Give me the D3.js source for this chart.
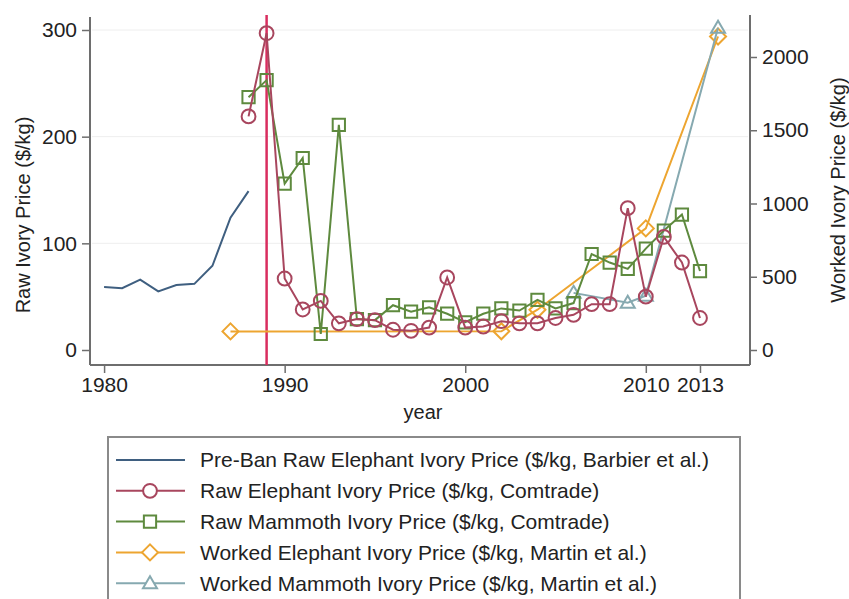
<!DOCTYPE html>
<html>
<head>
<meta charset="utf-8">
<script src="https://cdn.jsdelivr.net/npm/d3@7"></script>
<style>
  body { margin: 0; background: #fff; }
  text { font-family: "Liberation Sans", Arial, sans-serif; fill: #222; }
</style>
</head>
<body>
<svg id="drawing_region"></svg>
<script>
// data
const preBanYears = [1980, 1981, 1982, 1983, 1984, 1985, 1986, 1987, 1988];
const preBanPrice = [59, 58, 66, 55, 61, 62, 79, 124, 149];

const rawYears = [1988, 1989, 1990, 1991, 1992, 1993, 1994, 1995, 1996, 1997, 1998, 1999, 2000,
                  2001, 2002, 2003, 2004, 2005, 2006, 2007, 2008, 2009, 2010, 2011, 2012, 2013];
const rawElephantPrice = [219, 297, 67, 38, 46, 25, 29, 28, 19, 18, 21, 68, 21,
                          22, 27, 25, 25, 30, 33, 43, 43, 133, 50, 106, 82, 30];
const rawMammothPrice = [237, 253, 156, 180, 15, 211, 29, 28, 42, 36, 40, 34, 26,
                         34, 39, 37, 47, 39, 44, 90, 82, 76, 95, 112, 127, 74];

const workedElephantYears = [1987, 2002, 2004, 2010, 2014];
const workedElephantPrice = [127, 128, 275, 830, 2140];
const workedMammothYears = [2006, 2009, 2010, 2014];
const workedMammothPrice = [390, 323, 370, 2200];

const banYear = 1989;
const xTicks = [1980, 1990, 2000, 2010, 2013];
const leftTicks = [0, 100, 200, 300];
const rightTicks = [0, 500, 1000, 1500, 2000];

const legendLabels = [
    'Pre-Ban Raw Elephant Ivory Price ($/kg, Barbier et al.)',
    'Raw Elephant Ivory Price ($/kg, Comtrade)',
    'Raw Mammoth Ivory Price ($/kg, Comtrade)',
    'Worked Elephant Ivory Price ($/kg, Martin et al.)',
    'Worked Mammoth Ivory Price ($/kg, Martin et al.)'
];

class IvoryChart {

    constructor( config ) {
        this.config = config;
        this.init();
    }

    init() {
        let self = this;

        self.svg = d3.select( self.config.parent )
            .attr('width', self.config.width)
            .attr('height', self.config.height);

        // plot region spans x 90..750, y 17..365
        self.xScale = d3.scaleLinear()
            .domain([1979.22, 2015.77])
            .range([90, 750]);

        self.yLeft = d3.scaleLinear()
            .domain([0, 300])
            .range([350, 30]);

        self.yRight = d3.scaleLinear()
            .domain([0, 2000])
            .range([350, 57]);
    }

    render() {
        let self = this;
        const c = self.config.colors;

        // faint grid
        self.svg.append('g')
            .selectAll('line')
            .data(leftTicks.slice(1))
            .enter()
            .append('line')
            .attr('x1', 92).attr('x2', 748)
            .attr('y1', d => self.yLeft(d)).attr('y2', d => self.yLeft(d))
            .attr('stroke', '#eeeeee')
            .attr('stroke-width', 1);

        // axes
        const xAxis = d3.axisBottom(self.xScale)
            .tickValues(xTicks)
            .tickFormat(d3.format('d'))
            .tickSize(8)
            .tickPadding(4);
        const xg = self.svg.append('g')
            .attr('transform', 'translate(0,365)')
            .call(xAxis);
        xg.select('.domain').attr('d', 'M90,0H750');

        const lAxis = d3.axisLeft(self.yLeft)
            .tickValues(leftTicks)
            .tickFormat(d3.format('d'))
            .tickSize(8)
            .tickPadding(5);
        const lg = self.svg.append('g')
            .attr('transform', 'translate(90,0)')
            .call(lAxis);
        lg.select('.domain').attr('d', 'M0,17V365');

        const rAxis = d3.axisRight(self.yRight)
            .tickValues(rightTicks)
            .tickFormat(d3.format('d'))
            .tickSize(7)
            .tickPadding(5);
        const rg = self.svg.append('g')
            .attr('transform', 'translate(750,0)')
            .call(rAxis);
        rg.select('.domain').attr('d', 'M0,15V365');

        [xg, lg, rg].forEach(g => {
            g.select('.domain').attr('stroke', '#6e6e6e').attr('stroke-width', 2);
            g.selectAll('.tick line').attr('stroke', '#6e6e6e').attr('stroke-width', 1.5);
            g.selectAll('.tick text')
                .attr('font-size', '21px')
                .attr('font-family', '"Liberation Sans", Arial, sans-serif')
                .attr('fill', '#222');
        });

        // axis titles
        self.svg.append('text')
            .attr('x', 423).attr('y', 419)
            .attr('text-anchor', 'middle')
            .attr('font-size', '20px')
            .text('year');
        self.svg.append('text')
            .attr('transform', 'translate(30,215) rotate(-90)')
            .attr('text-anchor', 'middle')
            .attr('font-size', '20px')
            .text('Raw Ivory Price ($/kg)');
        self.svg.append('text')
            .attr('transform', 'translate(845,190) rotate(-90)')
            .attr('text-anchor', 'middle')
            .attr('font-size', '20px')
            .text('Worked Ivory Price ($/kg)');

        // ban line
        self.svg.append('line')
            .attr('x1', self.xScale(banYear)).attr('x2', self.xScale(banYear))
            .attr('y1', 15).attr('y2', 365)
            .attr('stroke', c.ban)
            .attr('stroke-width', 2.5);

        const zip = (xs, ys) => xs.map((x, i) => ({x: x, y: ys[i]}));
        const series = [
            {data: zip(preBanYears, preBanPrice), y: self.yLeft, color: c.preBan, marker: null},
            {data: zip(workedElephantYears, workedElephantPrice), y: self.yRight, color: c.workedEle, marker: 'diamond'},
            {data: zip(workedMammothYears, workedMammothPrice), y: self.yRight, color: c.workedMam, marker: 'triangle'},
            {data: zip(rawYears, rawMammothPrice), y: self.yLeft, color: c.rawMam, marker: 'square'},
            {data: zip(rawYears, rawElephantPrice), y: self.yLeft, color: c.rawEle, marker: 'circle'}
        ];

        series.forEach(s => {
            const line = d3.line()
                .x(d => self.xScale(d.x))
                .y(d => s.y(d.y));
            self.svg.append('path')
                .datum(s.data)
                .attr('d', line)
                .attr('fill', 'none')
                .attr('stroke', s.color)
                .attr('stroke-width', 2);
            if (s.marker) {
                self.svg.append('g')
                    .selectAll('path')
                    .data(s.data)
                    .enter()
                    .append('path')
                    .attr('transform', d => `translate(${self.xScale(d.x)},${s.y(d.y)})`)
                    .attr('d', self.markerPath(s.marker))
                    .attr('fill', 'none')
                    .attr('stroke', s.color)
                    .attr('stroke-width', 2);
            }
        });

        // legend
        const lx = 108, ly = 437;
        const legend = self.svg.append('g');
        legend.append('rect')
            .attr('x', lx).attr('y', ly)
            .attr('width', 632).attr('height', 180)
            .attr('fill', '#fff')
            .attr('stroke', '#8a8a8a')
            .attr('stroke-width', 2);

        const keys = [
            {color: c.preBan, marker: null},
            {color: c.rawEle, marker: 'circle'},
            {color: c.rawMam, marker: 'square'},
            {color: c.workedEle, marker: 'diamond'},
            {color: c.workedMam, marker: 'triangle'}
        ];
        const rows = legend.selectAll('g.row')
            .data(keys)
            .enter()
            .append('g')
            .attr('class', 'row')
            .attr('transform', (d, i) => `translate(0,${460 + i * 30.8})`);
        rows.append('line')
            .attr('x1', 116).attr('x2', 185)
            .attr('stroke', d => d.color)
            .attr('stroke-width', 2);
        rows.filter(d => d.marker)
            .append('path')
            .attr('transform', 'translate(150,0)')
            .attr('d', d => self.markerPath(d.marker))
            .attr('fill', '#fff')
            .attr('stroke', d => d.color)
            .attr('stroke-width', 2);
        rows.append('text')
            .attr('x', 200).attr('y', 0)
            .attr('dy', '0.35em')
            .attr('font-size', '21px')
            .text((d, i) => legendLabels[i]);
    }

    markerPath(kind) {
        if (kind === 'circle') return d3.symbol(d3.symbolCircle, 150)();
        if (kind === 'square') return d3.symbol(d3.symbolSquare, 150)();
        if (kind === 'diamond') return 'M0,-8L8,0L0,8L-8,0Z';
        return 'M0,-7L7,5L-7,5Z';
    }
}

const chart = new IvoryChart({
    parent: '#drawing_region',
    width: 849,
    height: 599,
    colors: {
        preBan: '#3f5f80',
        rawEle: '#a8465e',
        rawMam: '#5e8a3e',
        workedEle: '#eda530',
        workedMam: '#86a9b0',
        ban: '#d92d5f'
    }
});
chart.render();
</script>
</body>
</html>
